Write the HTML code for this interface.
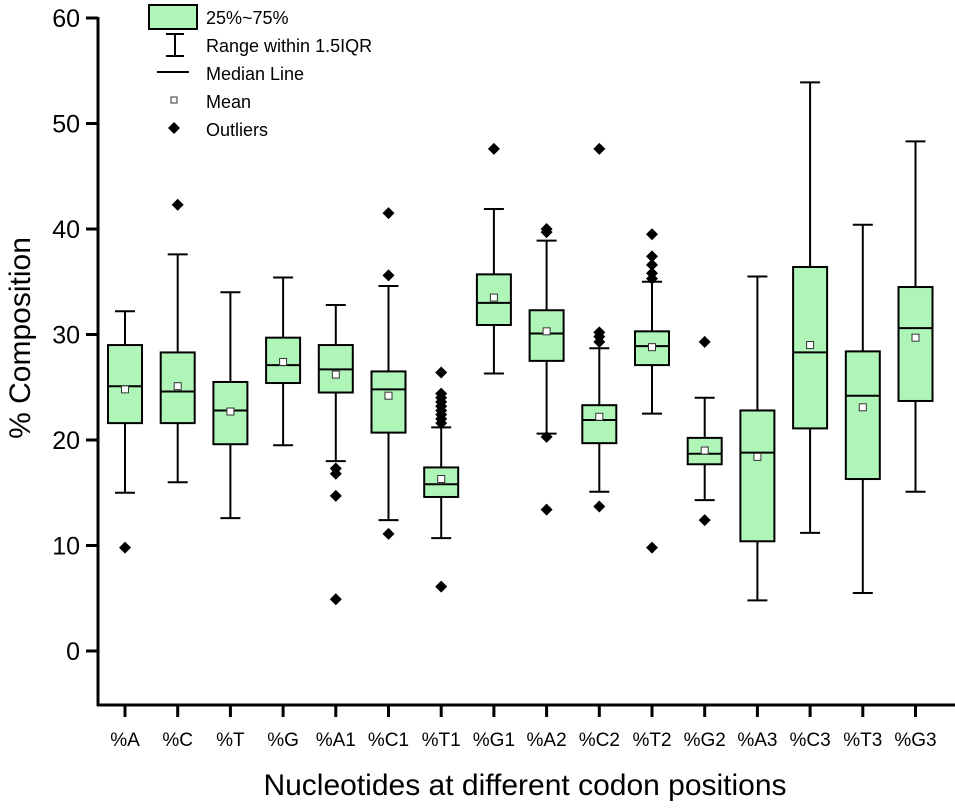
<!DOCTYPE html>
<html><head><meta charset="utf-8"><style>
html,body{margin:0;padding:0;background:#fff;}
svg{display:block;font-family:"Liberation Sans",Arial,sans-serif;}
</style></head><body>
<svg id="chart" width="955" height="810" viewBox="0 0 955 810" xmlns="http://www.w3.org/2000/svg"></svg>
<script>
const categories=["%A","%C","%T","%G","%A1","%C1","%T1","%G1","%A2","%C2","%T2","%G2","%A3","%C3","%T3","%G3"];
const whiskerLow=[15,16,12.6,19.5,18,12.4,10.7,26.3,20.6,15.1,22.5,14.3,4.8,11.2,5.5,15.1];
const q1=[21.6,21.6,19.6,25.4,24.5,20.7,14.6,30.9,27.5,19.7,27.1,17.7,10.4,21.1,16.3,23.7];
const medians=[25.1,24.6,22.8,27.1,26.7,24.8,15.8,33,30.1,21.9,28.9,18.7,18.8,28.3,24.2,30.6];
const q3=[29,28.3,25.5,29.7,29,26.5,17.4,35.7,32.3,23.3,30.3,20.2,22.8,36.4,28.4,34.5];
const whiskerHigh=[32.2,37.6,34,35.4,32.8,34.6,21.2,41.9,38.9,28.7,35,24,35.5,53.9,40.4,48.3];
const means=[24.8,25.1,22.7,27.4,26.2,24.2,16.3,33.5,30.3,22.2,28.8,19,18.4,29,23.1,29.7];
const outliers=[[9.8],[42.3],[],[],[17.3,16.8,14.7,4.9],[35.6,41.5,11.1],[21.6,22,22.4,22.8,23.2,23.6,24,24.4,26.4,6.1],[47.6],[39.7,40,20.3,13.4],[29.3,29.8,30.2,47.6,13.7],[35.3,35.8,36.6,37.4,39.5,9.8],[29.3,12.4],[],[],[],[]];
const yTicks=[0,10,20,30,40,50,60];

const svg=document.getElementById('chart');
const NS='http://www.w3.org/2000/svg';
function mk(tag,attrs,parent){const e=document.createElementNS(NS,tag);for(const k in attrs)e.setAttribute(k,attrs[k]);(parent||svg).appendChild(e);return e;}
const X0=98,Y0=705;
function y(v){return 651-v*10.55;}
function x(i){return 125+i*52.7;}

// axes
let ax=mk('line',{x1:X0,y1:17,x2:X0,y2:Y0+1,stroke:'#000','stroke-width':3});

ax=mk('line',{x1:X0-1,y1:Y0,x2:955,y2:Y0,stroke:'#000','stroke-width':3});

yTicks.forEach(t=>{
  const tk=mk('line',{x1:86,x2:X0,y1:y(t),y2:y(t),stroke:'#000','stroke-width':3});
  
  const tl=mk('text',{x:80,y:y(t)+9,'text-anchor':'end','font-size':25});
  tl.textContent=t;
  
});
const yt=mk('text',{x:0,y:0,'font-size':30,'text-anchor':'middle',transform:'translate(30,338) rotate(-90)'});
yt.textContent='% Composition';

const xt=mk('text',{x:525,y:795,'font-size':30,'text-anchor':'middle'});
xt.textContent='Nucleotides at different codon positions';


categories.forEach((c,i)=>{
  const cx=x(i);
  const tk=mk('line',{x1:cx,x2:cx,y1:Y0,y2:717,stroke:'#000','stroke-width':3});
  
  const tl=mk('text',{x:cx,y:746,'text-anchor':'middle','font-size':19});
  tl.textContent=c;
  
  const g=mk('g',{});
  
  
  mk('line',{x1:cx,x2:cx,y1:y(whiskerHigh[i]),y2:y(q3[i]),stroke:'#000','stroke-width':2},g);
  mk('line',{x1:cx,x2:cx,y1:y(q1[i]),y2:y(whiskerLow[i]),stroke:'#000','stroke-width':2},g);
  mk('line',{x1:cx-10,x2:cx+10,y1:y(whiskerHigh[i]),y2:y(whiskerHigh[i]),stroke:'#000','stroke-width':2},g);
  mk('line',{x1:cx-10,x2:cx+10,y1:y(whiskerLow[i]),y2:y(whiskerLow[i]),stroke:'#000','stroke-width':2},g);
  mk('rect',{x:cx-17,y:y(q3[i]),width:34,height:y(q1[i])-y(q3[i]),fill:'#b0f5b8',stroke:'#000','stroke-width':2},g);
  mk('line',{x1:cx-17,x2:cx+17,y1:y(medians[i]),y2:y(medians[i]),stroke:'#000','stroke-width':2},g);
  mk('rect',{x:cx-3.5,y:y(means[i])-3.5,width:7,height:7,fill:'#fff',stroke:'#333','stroke-width':1},g);
  outliers[i].forEach(o=>{
    const d=mk('path',{d:`M${cx},${y(o)-6}L${cx+6},${y(o)}L${cx},${y(o)+6}L${cx-6},${y(o)}Z`,fill:'#000'},g);
    
  });
});

// legend
const lg=mk('g',{});

mk('rect',{x:149,y:5,width:48,height:24,fill:'#b0f5b8',stroke:'#000','stroke-width':2},lg);
mk('line',{x1:175,x2:175,y1:34,y2:56,stroke:'#000','stroke-width':2},lg);
mk('line',{x1:166,x2:184,y1:34,y2:34,stroke:'#000','stroke-width':2},lg);
mk('line',{x1:166,x2:184,y1:56,y2:56,stroke:'#000','stroke-width':2},lg);
mk('line',{x1:157,x2:189,y1:72,y2:72,stroke:'#000','stroke-width':2},lg);
mk('rect',{x:171,y:97,width:6,height:6,fill:'#fff',stroke:'#333','stroke-width':1},lg);
mk('path',{d:'M174,122L180,128L174,134L168,128Z',fill:'#000'},lg);
[['25%~75%',24],['Range within 1.5IQR',52],['Median Line',80],['Mean',108],['Outliers',136]].forEach(([t,yy])=>{
  const e=mk('text',{x:206,y:yy,'font-size':18},lg);e.textContent=t;
  
});
</script>
</body></html>
